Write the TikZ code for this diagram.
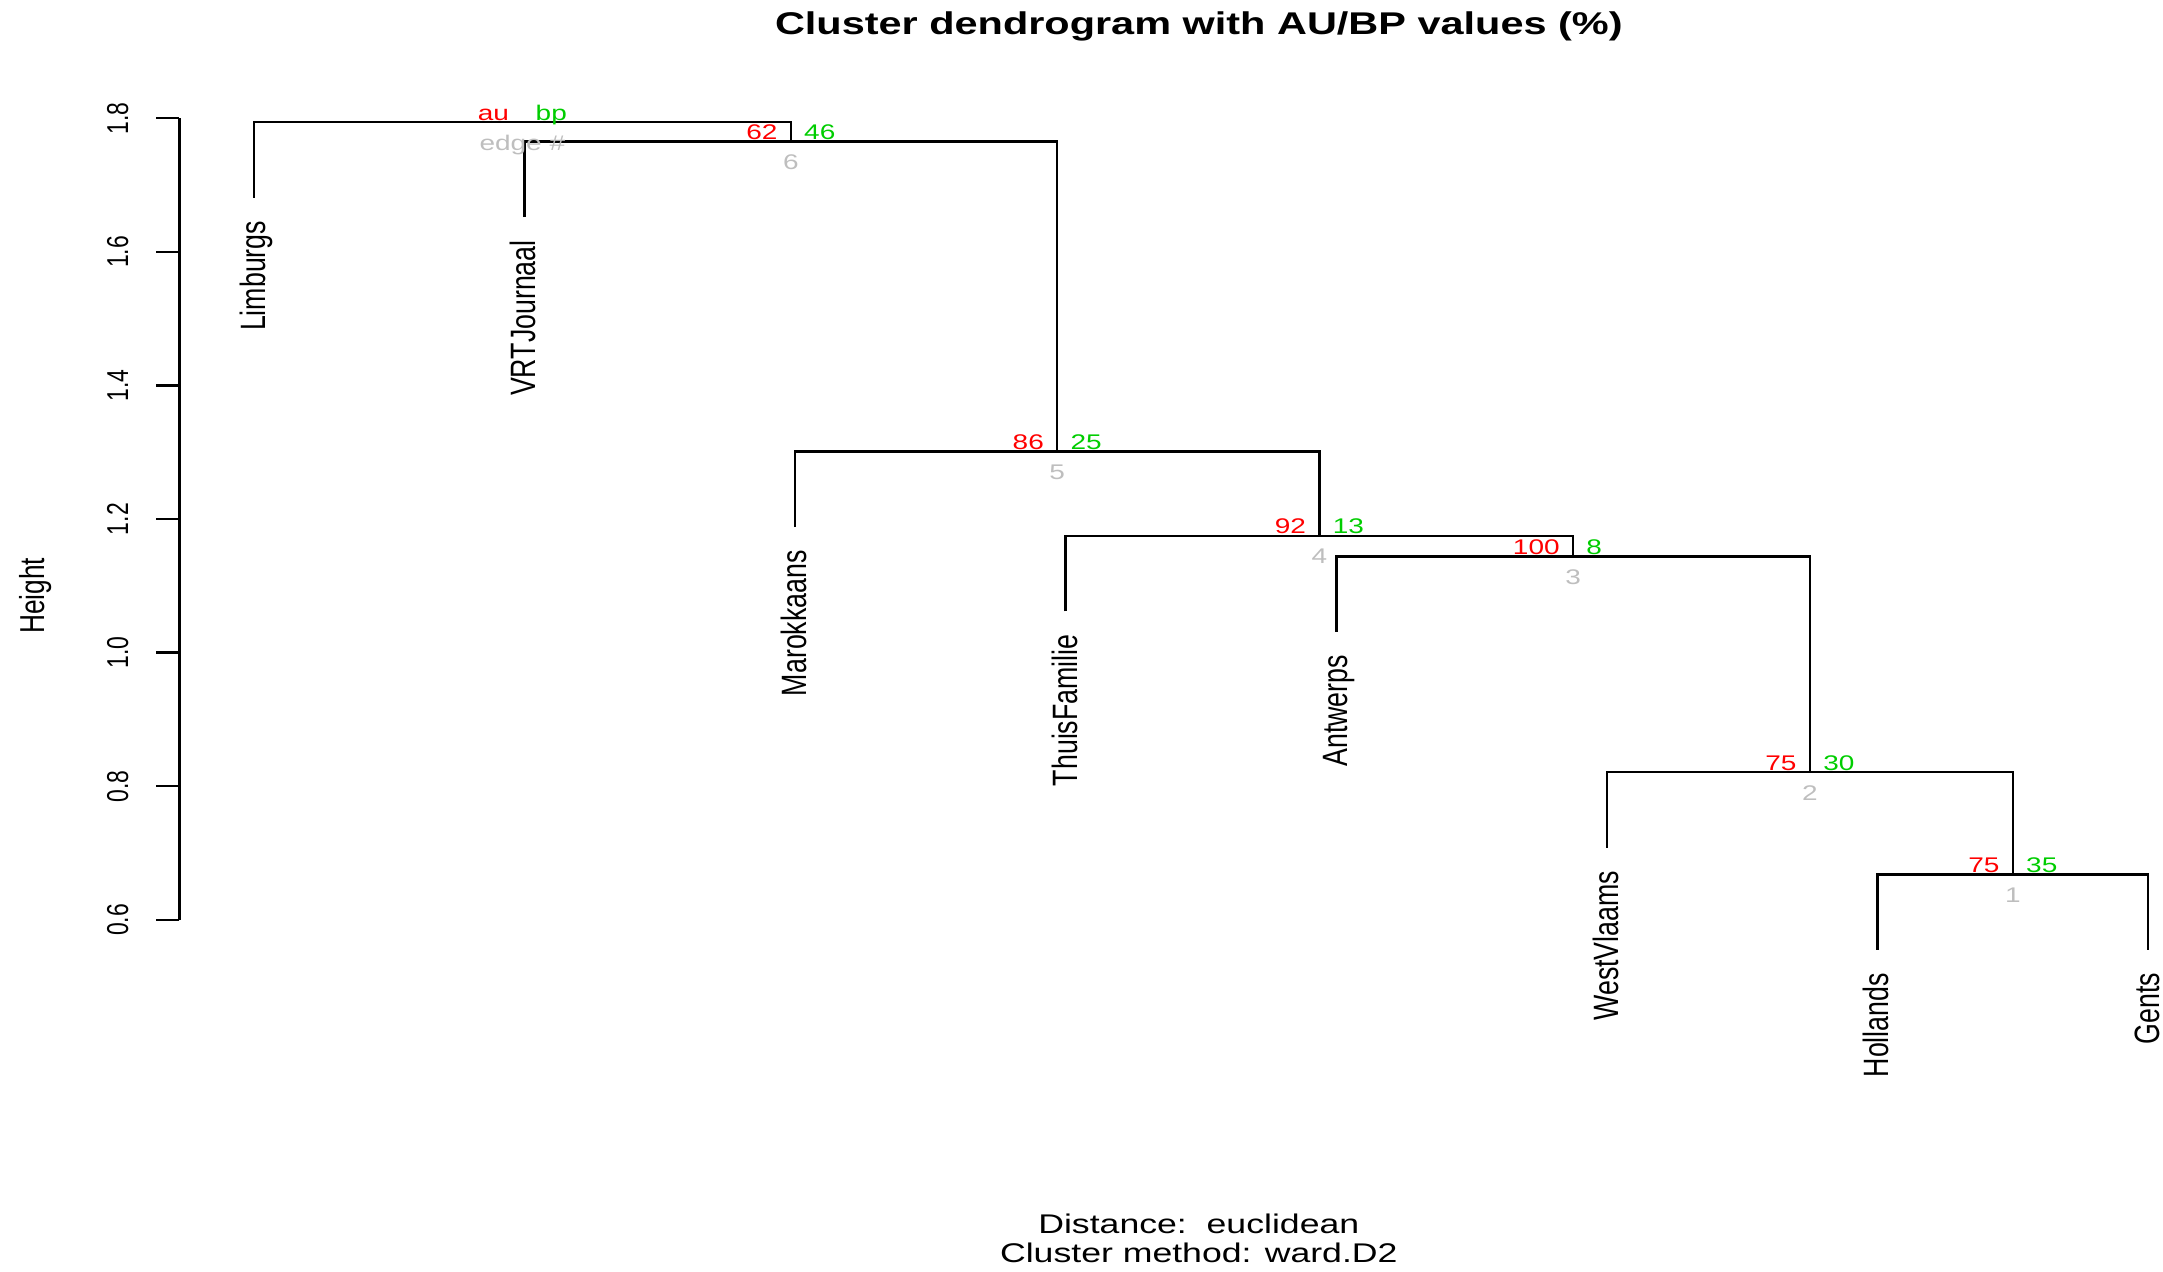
\documentclass[tikz,border=0pt]{standalone}
\usepackage{fontspec}
\usepackage{tikz}
\usetikzlibrary{calc}
\newfontfamily\flatfont[FakeStretch=1.32]{Liberation Sans}
\newfontfamily\tallfont[FakeStretch=0.76]{Liberation Sans}
\definecolor{aured}{HTML}{FF0000}
\definecolor{bpgreen}{HTML}{00CD00}
\definecolor{edgegrey}{HTML}{BEBEBE}

\begin{document}
\begin{tikzpicture}[x=135.3pt,y=334pt,
    tree/.style={line width=1.2pt},
    leaflab/.style={anchor=east,rotate=90,inner sep=0pt,text height=11.4pt,text depth=0pt,
      font=\tallfont\fontsize{17.6}{20}\selectfont},
    ticklab/.style={rotate=90,inner sep=0pt,text height=10.8pt,text depth=0pt,
      font=\tallfont\fontsize{15.1}{17}\selectfont},
    aulab/.style={anchor=base east,inner sep=0pt,text=aured,font=\flatfont\fontsize{10.6}{12}\selectfont},
    bplab/.style={anchor=base west,inner sep=0pt,text=bpgreen,font=\flatfont\fontsize{10.6}{12}\selectfont},
    edgelab/.style={inner sep=0pt,text height=7.6pt,text depth=0pt,text=edgegrey,
      font=\flatfont\fontsize{10.6}{12}\selectfont}]
    \useasboundingbox (0.062,0.0744) rectangle (8.055,1.977);

    % titles
    \node[anchor=base,font=\flatfont\bfseries\fontsize{15.7}{18}\selectfont] (title) at (4.492,1.926)
      {Cluster dendrogram with AU/BP values (\%)};
    \node[anchor=base,font=\flatfont\fontsize{13.5}{15}\selectfont] (dist) at (4.492,0.130)
      {Distance:\ \ euclidean};
    \node[anchor=base,font=\flatfont\fontsize{13.5}{15}\selectfont] (meth) at (4.492,0.0864)
      {Cluster method: ward.D2};
    \node[rotate=90,inner sep=0pt,text height=12.4pt,text depth=0pt,
      font=\tallfont\fontsize{17.3}{19}\selectfont] (ylab) at (0.182,1.085) {Height};

    % height axis
    \draw[tree] (0.7246,0.6) -- (0.7246,1.8);
    \foreach \h [count=\k] in {0.6,0.8,1.0,1.2,1.4,1.6,1.8} {
      \coordinate (tk\k) at (0.7246,\h);
      \draw[tree] (tk\k) -- ++(-0.0876,0);
      \node[ticklab] (tl\k) at (0.4955,\h) {\h};
    }

    % merges and leaf ends
    \foreach \nm/\xx/\hh in {e1/7.5/0.668,e2/6.75/0.821,e3/5.875/1.144,e4/4.9375/1.175,
        e5/3.96875/1.301,e6/2.984375/1.765,e7/1.9921875/1.794}
      \coordinate (\nm) at (\xx,\hh);
    \foreach \i/\hh in {1/1.681,2/1.652,3/1.188,4/1.062,5/1.031,6/0.708,7/0.555,8/0.555}
      \coordinate (lf\i) at (\i,\hh);

    \draw[tree] (lf7) |- (e1) -| (lf8);
    \draw[tree] (lf6) |- (e2) -| (e1);
    \draw[tree] (lf5) |- (e3) -| (e2);
    \draw[tree] (lf4) |- (e4) -| (e3);
    \draw[tree] (lf3) |- (e5) -| (e4);
    \draw[tree] (lf2) |- (e6) -| (e5);
    \draw[tree] (lf1) |- (e7) -| (e6);

    \foreach \i/\name in {1/Limburgs,2/VRTJournaal,3/Marokkaans,4/ThuisFamilie,
        5/Antwerps,6/WestVlaams,7/Hollands,8/Gents}
      \node[leaflab] (lab\i) at ([yshift=-11.4pt]lf\i) {\name};

    % au / bp / edge numbers
    \foreach \nm/\au/\bp/\ed in {e1/75/35/1,e2/75/30/2,e3/100/8/3,e4/92/13/4,e5/86/25/5,e6/62/46/6} {
      \node[aulab] (au\ed) at ([shift={(-6.5pt,1pt)}]\nm) {\au};
      \node[bplab] (bp\ed) at ([shift={(6.5pt,1pt)}]\nm) {\bp};
      \node[edgelab] (ed\ed) at ([yshift=-10.3pt]\nm) {\ed};
    }
    \node[aulab] (aukey) at ([shift={(-6.5pt,1pt)}]e7) {au};
    \node[bplab] (bpkey) at ([shift={(6.5pt,1pt)}]e7) {bp};
    \node[edgelab] (edkey) at ([yshift=-10.3pt]e7) {edge \#};
\end{tikzpicture}
\end{document}
